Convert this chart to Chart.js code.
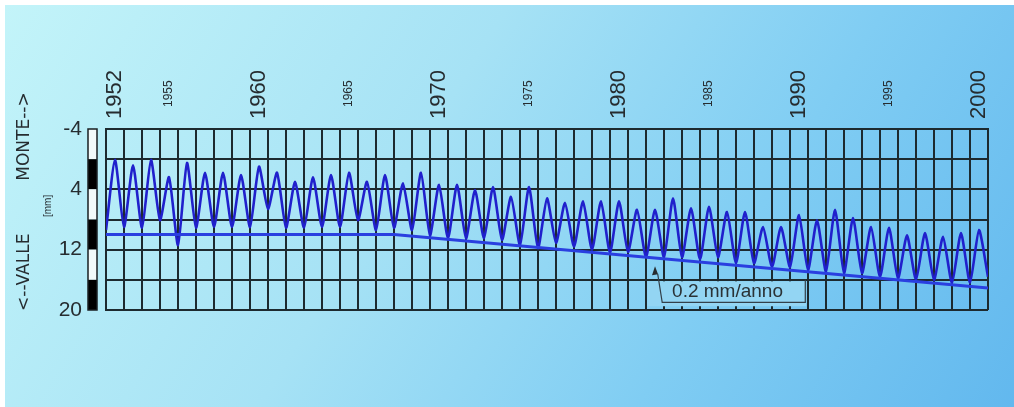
<!DOCTYPE html>
<html>
<head>
<meta charset="utf-8">
<script src="https://cdn.jsdelivr.net/npm/chart.js@4/dist/chart.umd.min.js"></script>
<style>
  html, body { margin: 0; padding: 0; background: #ffffff; }
  #wrap { position: relative; width: 1014px; height: 407px; overflow: hidden; }
  #bg {
    position: absolute; left: 5px; top: 5px; right: 0; bottom: 0;
    background: linear-gradient(122deg, #c3f4f9 0%, #a6e2f5 40%, #80cdf3 70%, #62b8ee 100%);
  }
  canvas { position: absolute; left: 0; top: 0; }
</style>
</head>
<body>
<div id="wrap">
  <div id="bg"></div>
  <canvas id="c" width="1014" height="407"></canvas>
</div>
<script>
// Annual readings (mm, positive = downward / "valle")
const years = [
  1952, 1953, 1954, 1955, 1956, 1957, 1958, 1959, 1960, 1961,
  1962, 1963, 1964, 1965, 1966, 1967, 1968, 1969, 1970, 1971,
  1972, 1973, 1974, 1975, 1976, 1977, 1978, 1979, 1980, 1981,
  1982, 1983, 1984, 1985, 1986, 1987, 1988, 1989, 1990, 1991,
  1992, 1993, 1994, 1995, 1996, 1997, 1998, 1999, 2000
];
// seasonal crest (highest position reached in the year)
const highs = [
  0.1, 0.8, 0.1, 2.4, 0.5, 1.8, 1.8, 2.1, 1.0, 1.8,
  3.0, 2.4, 2.1, 1.8, 3.0, 2.1, 3.2, 1.8, 3.4, 3.4,
  4.1, 3.7, 5.0, 3.7, 5.2, 5.8, 5.6, 5.6, 5.6, 6.7,
  6.7, 5.2, 6.5, 6.3, 7.0, 7.0, 9.0, 9.0, 7.4, 8.1,
  6.7, 7.8, 9.0, 9.1, 10.1, 9.8, 10.3, 9.8, 9.4
];
// seasonal low reached at the turn of each year
const lows = [
  9.0, 9.1, 8.1, 11.4, 9.1, 9.0, 9.0, 9.0, 6.6, 9.1,
  9.1, 9.0, 9.0, 8.1, 9.4, 9.1, 9.4, 10.1, 10.5, 10.5,
  10.5, 10.7, 11.4, 11.8, 11.1, 11.6, 12.0, 12.4, 12.3, 13.0,
  13.0, 13.0, 13.3, 13.0, 13.8, 13.8, 14.3, 14.3, 14.7, 14.9,
  15.1, 15.1, 15.6, 15.8, 16.0, 16.0, 16.4, 16.4, 15.6
];
const startLow = 9.4;

// long-term settlement trend
const trendYears = [1951.5, 1967.5, 2000.5];
const trendValues = [10, 10, 17.1];

const majorLabels = [1952, 1960, 1970, 1980, 1990, 2000];
const minorLabels = [1955, 1965, 1975, 1985, 1995];
const yLabels = [-4, 4, 12, 20];
const slopeText = '0.2 mm/anno';

// ---- build datasets ----
const seriesPoints = [{ x: years[0] - 0.5, y: startLow }];
years.forEach((yr, i) => {
  seriesPoints.push({ x: yr, y: highs[i] });
  seriesPoints.push({ x: yr + 0.5, y: lows[i] });
});
const trendPoints = trendYears.map((t, i) => ({ x: t, y: trendValues[i] }));
const gridYears = years.map(v => v - 0.5).concat([years[years.length - 1] + 0.5]);

const GRID = '#1d2a2f';
const TEXT = '#262c30';
const SANS = '"Liberation Sans", Arial, sans-serif';

const decor = {
  id: 'decor',
  afterDatasetsDraw(chart) {
    const { ctx, scales: { x, y } } = chart;
    // slope callout with a plain panel behind the text
    const tipX = x.getPixelForValue(1982.0), tipY = y.getPixelForValue(14.2);
    const c1x = x.getPixelForValue(1982.15), c1y = y.getPixelForValue(15.6);
    const c2x = x.getPixelForValue(1982.4), c2y = y.getPixelForValue(19.0);
    const rx = x.getPixelForValue(1990.35), rTop = y.getPixelForValue(16.0);
    ctx.save();
    ctx.fillStyle = '#93d5f3';
    const bx0 = x.getPixelForValue(1981.5) + 1.5;
    const by0 = y.getPixelForValue(16) + 1.5;
    ctx.fillRect(bx0, by0, rx - bx0 + 1, y.getPixelForValue(19.5) - by0);
    ctx.strokeStyle = '#33404a';
    ctx.fillStyle = '#262c30';
    ctx.lineWidth = 1.2;
    ctx.beginPath();
    ctx.moveTo(tipX, tipY);
    ctx.lineTo(tipX - 3, tipY + 9);
    ctx.lineTo(tipX + 3, tipY + 8);
    ctx.closePath();
    ctx.fill();
    ctx.beginPath();
    ctx.moveTo(c1x, c1y - 3);
    ctx.lineTo(c2x, c2y);
    ctx.lineTo(rx, c2y);
    ctx.lineTo(rx, rTop);
    ctx.stroke();
    ctx.font = '19px ' + SANS;
    ctx.textAlign = 'left';
    ctx.textBaseline = 'middle';
    ctx.fillStyle = '#2a3236';
    ctx.fillText(slopeText, x.getPixelForValue(1982.95), y.getPixelForValue(17.6));
    ctx.restore();
  },
  afterDraw(chart) {
    const { ctx, chartArea: a, scales: { x, y } } = chart;
    ctx.save();

    // alternating mm scale bar left of the plot
    const bx = a.left - 18, bw = 9;
    for (let v = -4; v < 20; v += 4) {
      const t = y.getPixelForValue(v), b = y.getPixelForValue(v + 4);
      ctx.fillStyle = ((v / 4) % 2 === 0) ? '#000000' : '#f2fafa';
      ctx.fillRect(bx, t, bw, b - t);
    }
    ctx.strokeStyle = '#1a1f22';
    ctx.lineWidth = 1.5;
    ctx.strokeRect(bx, y.getPixelForValue(-4), bw, y.getPixelForValue(20) - y.getPixelForValue(-4));

    // year labels above the plot
    ctx.fillStyle = TEXT;
    ctx.textAlign = 'left';
    ctx.textBaseline = 'middle';
    majorLabels.forEach(v => {
      ctx.save();
      ctx.translate(x.getPixelForValue(v), a.top - 10);
      ctx.rotate(-Math.PI / 2);
      ctx.font = '22px ' + SANS;
      ctx.fillText(String(v), 0, 0);
      ctx.restore();
    });
    minorLabels.forEach(v => {
      ctx.save();
      ctx.translate(x.getPixelForValue(v), a.top - 22);
      ctx.rotate(-Math.PI / 2);
      ctx.font = '12px ' + SANS;
      ctx.fillText(String(v), 0, 0);
      ctx.restore();
    });

    // direction captions
    ctx.textAlign = 'center';
    const side = (txt, px, py, font) => {
      ctx.save();
      ctx.translate(px, py);
      ctx.rotate(-Math.PI / 2);
      ctx.font = font;
      ctx.fillText(txt, 0, 0);
      ctx.restore();
    };
    side('MONTE-->', 25, y.getPixelForValue(-3.0), '17px "DejaVu Sans", sans-serif');
    side('<--VALLE', 25, y.getPixelForValue(15.0), '17px "DejaVu Sans", sans-serif');
    side('[mm]', 48, y.getPixelForValue(6.2), '10px ' + SANS);

    ctx.restore();
  }
};

new Chart(document.getElementById('c'), {
  type: 'line',
  data: {
    datasets: [
      {
        data: trendPoints,
        borderColor: '#2a3fe0',
        borderWidth: 3,
        pointRadius: 0,
        tension: 0
      },
      {
        data: seriesPoints,
        borderColor: '#2020cc',
        borderWidth: 2.6,
        pointRadius: 0,
        tension: 0.2
      }
    ]
  },
  options: {
    responsive: false,
    devicePixelRatio: 1,
    animation: false,
    layout: { padding: { top: 0, right: 26, bottom: 97, left: 0 } },
    plugins: { legend: { display: false }, tooltip: { enabled: false } },
    scales: {
      x: {
        type: 'linear',
        position: 'top',
        min: gridYears[0],
        max: gridYears[gridYears.length - 1],
        afterBuildTicks: s => { s.ticks = gridYears.map(v => ({ value: v })); },
        afterFit: s => { s.height = 129; },
        ticks: { display: false },
        grid: { color: GRID, lineWidth: 2, drawTicks: false },
        border: { color: GRID, width: 2 }
      },
      y: {
        reverse: true,
        min: -4,
        max: 20,
        afterFit: s => { s.width = 106; },
        ticks: {
          stepSize: 4,
          padding: 24,
          color: TEXT,
          font: { family: SANS, size: 21 },
          callback: v => (yLabels.includes(v) ? String(v) : '')
        },
        grid: { color: GRID, lineWidth: 2, drawTicks: false },
        border: { color: GRID, width: 2 }
      }
    }
  },
  plugins: [decor]
});
</script>
</body>
</html>
